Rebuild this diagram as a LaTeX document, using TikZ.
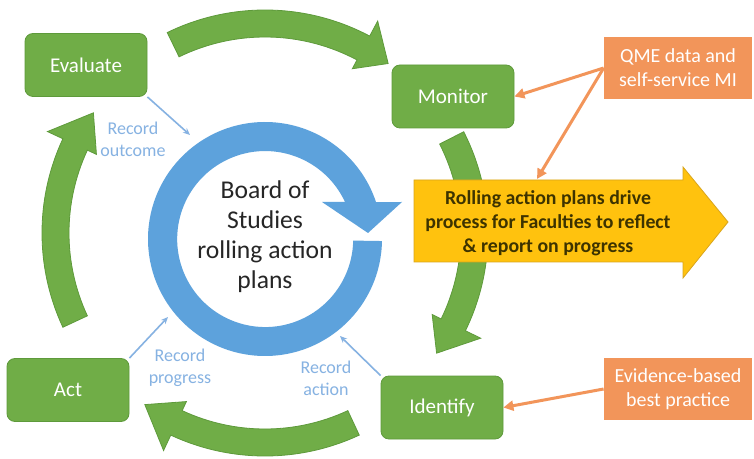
\documentclass[tikz,border=0pt]{standalone}
\usepackage{fontspec}
\setmainfont{Carlito}
\usetikzlibrary{arrows.meta,calc,positioning}
\definecolor{Leaf}{HTML}{70AD47}
\definecolor{LeafDark}{HTML}{5E9A3B}
\definecolor{Sky}{HTML}{5DA2DC}
\definecolor{SkyLight}{HTML}{86B2E2}
\definecolor{Tangerine}{HTML}{F2955A}
\definecolor{Amber}{HTML}{FFC20E}
\definecolor{AmberDark}{HTML}{D9A51C}
\definecolor{Ink}{HTML}{262626}
\definecolor{Olive}{HTML}{3D3300}
\tikzset{
  stage/.style={
    rounded corners=4pt, draw=LeafDark, thin, fill=Leaf, text=white,
    minimum width=61pt, minimum height=31.5pt, font=\fontsize{10.5}{12}\selectfont
  },
  source/.style={
    fill=Tangerine, text=white, minimum width=74pt, minimum height=31pt,
    align=center, font=\fontsize{10}{12}\selectfont
  },
  note/.style={text=SkyLight, align=center, font=\fontsize{9}{11}\selectfont},
  feed/.style={-{Triangle[length=5pt,width=5pt]}, line width=1.5pt, draw=Tangerine},
  record/.style={-{Stealth[length=3.5pt,width=3pt]}, line width=0.8pt, draw=SkyLight},
  looparrow/.style={fill=Leaf, draw=LeafDark, line width=0.4pt}
}
% curved block arrow of the outer cycle: tail, head base and tip angles
\newcommand\cyclearrow[3]{%
  \path[looparrow] (hub) ++(#1:223) arc[start angle=#1, end angle=#2, radius=223]
    -- ($(hub)+(#2:240)$) -- ($(hub)+(#3:209.5)$) -- ($(hub)+(#2:186)$)
    -- ($(hub)+(#2:196)$) arc[start angle=#2, end angle=#1, radius=196] -- cycle;}

\begin{document}
\begin{tikzpicture}[x=0.5pt,y=0.5pt]
    \fill[white] (0,0) rectangle (754,-459);
    \useasboundingbox (0,0) rectangle (754,-459);
    \coordinate (hub) at (265,-233);
    \coordinate (ring) at (265,-239);

    % outer cycle
    \cyclearrow{116}{62}{54}
    \cyclearrow{27}{-26}{-35}
    \cyclearrow{-65}{-115}{-125}
    \cyclearrow{205}{155}{145}

    % yellow arrow
    \path[fill=Amber, draw=AmberDark, line width=0.4pt]
      (414,-180) -- (683,-180) -- (683,-167) -- (728,-222)
      -- (683,-278) -- (683,-262) -- (414,-262) -- cycle;
    \node[font=\bfseries\fontsize{9.9}{12}\selectfont, text=Olive, align=center] (plans)
      at (548,-223) {Rolling action plans drive\\process for Faculties to reflect\\\& report on progress};
    \coordinate (plantop) at (537,-179);

    % blue ring
    \path[fill=Sky] (ring) ++(-1:117) arc[start angle=-1, end angle=-341.6, radius=117]
      -- (402,-202) -- (368,-233) -- (322,-202) -- (345,-202)
      arc[start angle=24.9, end angle=359, radius=88] -- cycle;
    \node[font=\fontsize{12.8}{15}\selectfont, text=Ink, align=center] (board)
      at (265,-237) {Board of\\Studies\\rolling action\\plans};

    \node[stage] (evaluate) at (86,-65) {Evaluate};
    \node[stage] (monitor) at (453,-96.5) {Monitor};
    \node[stage] (identify) at (442,-407.5) {Identify};
    \node[stage] (act) at (68,-390) {Act};
    \node[source] (qme) at (678,-68) {QME data and\\self-service MI};
    \node[source] (evidence) at (678,-389) {Evidence-based\\best practice};

    \draw[feed] (qme.west) -- (monitor.east);
    \draw[feed] (qme.west) -- (plantop);
    \draw[feed] (evidence.west) -- (identify.east);

    % records
    \coordinate (outcomeEnd) at (190,-135);
    \coordinate (progressEnd) at (168,-317);
    \coordinate (actionEnd) at (340,-336);
    \draw[record] (evaluate.south east) -- (outcomeEnd);
    \draw[record] (act.north east) -- (progressEnd);
    \draw[record] (identify.north west) -- (actionEnd);
    \node[note] (outcome) at (133,-139) {Record\\outcome};
    \node[note] (progress) at (180,-368) {Record\\progress};
    \node[note] (action) at (326,-378) {Record\\action};
  \end{tikzpicture}
\end{document}
